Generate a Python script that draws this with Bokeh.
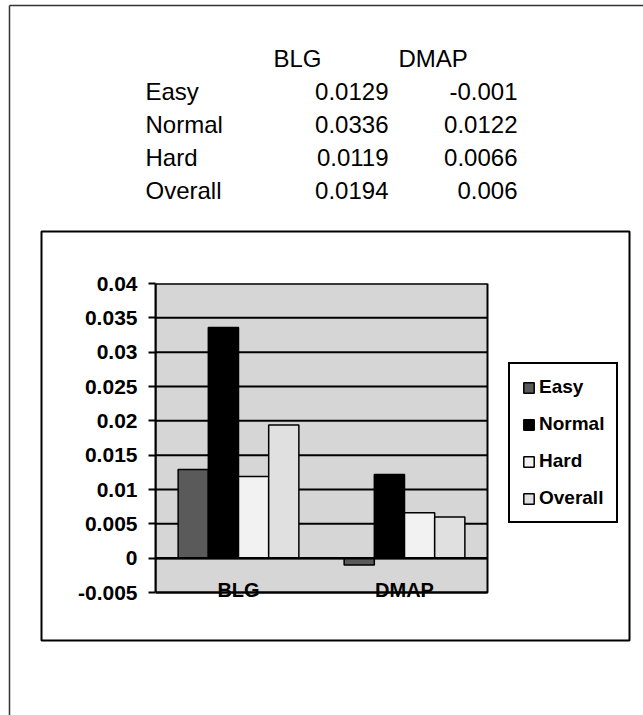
from bokeh.plotting import figure
from bokeh.models import Range1d, ColumnDataSource, Legend, LegendItem, FixedTicker
from bokeh.transform import dodge
from bokeh.core.properties import value
from bokeh.embed import file_html
from bokeh.resources import INLINE

# ---- data -------------------------------------------------------------
methods = ["BLG", "DMAP"]
levels = ["Easy", "Normal", "Hard", "Overall"]
easy = [0.0129, -0.001]
normal = [0.0336, 0.0122]
hard = [0.0119, 0.0066]
overall = [0.0194, 0.006]
y_ticks = [-0.005, 0, 0.005, 0.01, 0.015, 0.02, 0.025, 0.03, 0.035, 0.04]
y_tick_labels = ["-0.005", "0", "0.005", "0.01", "0.015", "0.02", "0.025", "0.03", "0.035", "0.04"]

series = [easy, normal, hard, overall]
fills = ["#5a5a5a", "#000000", "#f2f2f2", "#e0e0e0"]
PLOT_BG = "#d6d6d6"

FONT = "Liberation Sans"
W, H = 643, 715
BOX_L, BOX_T, BOX_R, BOX_B = 41, 231, 629, 640     # chart box on the page
PLOT_L, PLOT_T, PLOT_R, PLOT_B = 155, 283, 487, 592  # value area on the page
EXTRA_B = 8                                          # room for category names
EDGE = "#333333"

# ---- page sheet: summary table, page edges and chart box ----------------
page = figure(width=W, height=H, x_range=Range1d(0, W), y_range=Range1d(H, 0),
              output_backend="svg", toolbar_location=None, min_border=0)
page.xaxis.visible = False
page.yaxis.visible = False
page.grid.visible = False
page.outline_line_color = None
page.background_fill_color = "white"
page.border_fill_color = "white"

page.segment(x0=[9, 9], y0=[5, 5], x1=[W, 9], y1=[5, H], line_color=EDGE, line_width=1.5)
page.quad(left=[BOX_L], right=[BOX_R], top=[BOX_T], bottom=[BOX_B],
          fill_color=None, line_color="black", line_width=2)

row_y = [91, 124, 157, 190]
head_y = 58
txt = dict(text_baseline="middle", text_font=value(FONT), text_font_size=value("24px"),
           text_color="black")
page.text(x=[273, 398], y=[head_y, head_y], text=methods, text_align="left", **txt)
page.text(x=[145] * len(levels), y=row_y, text=levels, text_align="left", **txt)
page.text(x=[388] * len(levels), y=row_y, text=[str(s[0]) for s in series],
          text_align="right", **txt)
page.text(x=[517] * len(levels), y=row_y, text=[str(s[1]) for s in series],
          text_align="right", **txt)

# ---- clustered bar chart, laid over the chart box ----------------------
n = len(methods)
y_lo, y_hi = y_ticks[0], y_ticks[-1]
units_per_px = (y_hi - y_lo) / (PLOT_B - PLOT_T)
x_hi = n * (BOX_R - PLOT_L) / (PLOT_R - PLOT_L)   # frame also holds the legend

p = figure(width=BOX_R - BOX_L, height=BOX_B - BOX_T,
           x_range=Range1d(0, x_hi), y_range=Range1d(y_lo - EXTRA_B * units_per_px, y_hi),
           output_backend="svg", toolbar_location=None,
           min_border_left=PLOT_L - BOX_L, min_border_right=0,
           min_border_top=PLOT_T - BOX_T, min_border_bottom=BOX_B - PLOT_B - EXTRA_B)
p.styles = {"position": "absolute", "left": f"{BOX_L}px", "top": f"{BOX_T}px"}

p.background_fill_alpha = 0
p.border_fill_alpha = 0
p.outline_line_color = None
p.grid.visible = False
p.xaxis.visible = False

ay = p.yaxis[0]
ay.ticker = FixedTicker(ticks=y_ticks)
ay.major_label_overrides = {t: s for t, s in zip(y_ticks, y_tick_labels)}
ay.bounds = (y_lo, y_hi)
ay.axis_line_color = "black"
ay.axis_line_width = 2
ay.major_tick_in = 0
ay.major_tick_out = 7
ay.major_tick_line_width = 2
ay.minor_tick_out = 0
ay.minor_tick_in = 0
ay.major_label_standoff = 11
ay.major_label_text_font = FONT
ay.major_label_text_font_style = "bold"
ay.major_label_text_font_size = "21px"
ay.major_label_text_color = "black"

# value area: grey field, black rules at every tick, black border
p.quad(left=[0], right=[n], bottom=[y_lo], top=[y_hi], fill_color=PLOT_BG,
       line_color="black", line_width=2)
p.segment(x0=[0] * len(y_ticks), x1=[n] * len(y_ticks), y0=y_ticks, y1=y_ticks,
          line_color="black", line_width=2)

pos = [i + 0.5 for i in range(n)]
src = ColumnDataSource(dict(pos=pos, easy=easy, normal=normal, hard=hard, overall=overall))
cols = ["easy", "normal", "hard", "overall"]
bw = 1 / 5.5
renderers = []
for i, (col, fc) in enumerate(zip(cols, fills)):
    r = p.vbar(x=dodge("pos", (i - 1.5) * bw), top=col, bottom=0, width=bw, source=src,
               fill_color=fc, line_color="black", line_width=1.5)
    renderers.append(r)

# zero line
p.segment(x0=[0], x1=[n], y0=[0], y1=[0], line_color="black", line_width=2.5)

# category names sit on the bottom edge of the value area
p.text(x=pos, y=[y_lo] * n, text=methods, text_align="center", text_baseline="middle",
       y_offset=-3, text_font=value(FONT), text_font_style="bold",
       text_font_size=value("20px"), text_color="black")

legend = Legend(items=[LegendItem(label=l, renderers=[r]) for l, r in zip(levels, renderers)],
                location=(508 - PLOT_L, PLOT_B + EXTRA_B - 523), orientation="vertical",
                border_line_color="black", border_line_width=2, border_line_alpha=1,
                background_fill_color="white", background_fill_alpha=1,
                glyph_width=13, glyph_height=13, label_standoff=4,
                label_text_font=FONT, label_text_font_style="bold",
                label_text_font_size="19px", label_text_color="black",
                spacing=15, padding=12, margin=0)
p.add_layout(legend)

open("out.html", "w").write(file_html([page, p], INLINE))
